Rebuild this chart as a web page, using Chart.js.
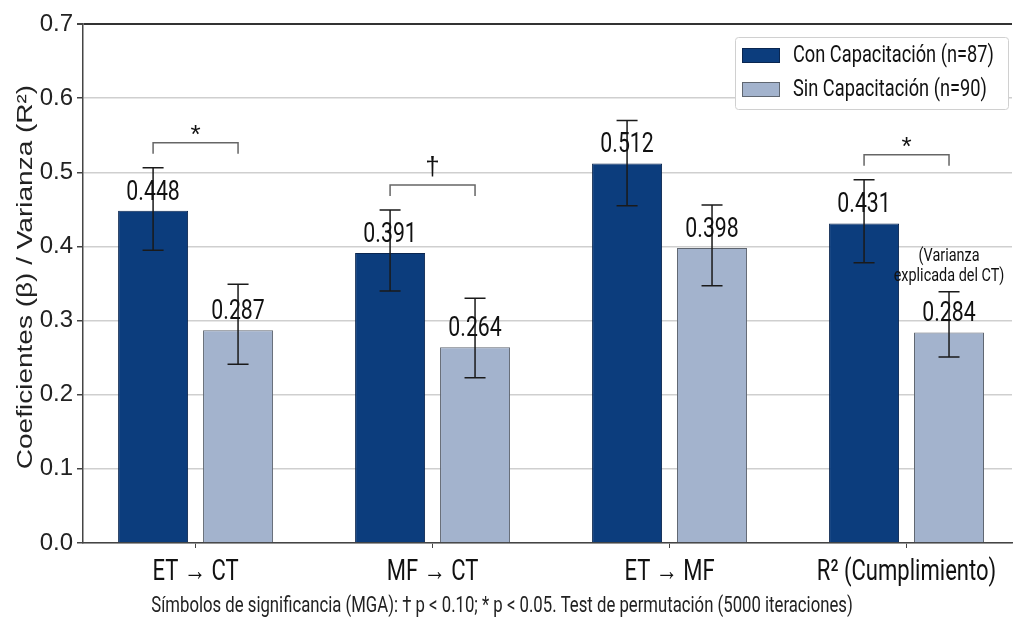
<!DOCTYPE html>
<html>
<head>
<meta charset="utf-8">
<script src="https://cdn.jsdelivr.net/npm/chart.js@4.4.1/dist/chart.umd.min.js"></script>
<style>
  html, body { margin: 0; padding: 0; background: #fff; }
  #wrap { width: 1015px; height: 619px; }
</style>
</head>
<body>
<div id="wrap"><canvas id="barChart"></canvas></div>
<script>
const categories = ['ET → CT', 'MF → CT', 'ET → MF', 'R² (Cumplimiento)'];
const seriesNames = ['Con Capacitación (n=87)', 'Sin Capacitación (n=90)'];
const conValues = [0.448, 0.391, 0.512, 0.431];
const sinValues = [0.287, 0.264, 0.398, 0.284];
// error bar ends
const conLow = [0.395, 0.340, 0.455, 0.378];
const conHigh = [0.506, 0.449, 0.570, 0.490];
const sinLow = [0.241, 0.223, 0.347, 0.251];
const sinHigh = [0.349, 0.330, 0.456, 0.339];
const sigMarks = ['*', '†', '', '*'];
const noteR2 = ['(Varianza', 'explicada del CT)'];
const yTitle = 'Coeficientes (β) / Varianza (R²)';
const footnote = 'Símbolos de significancia (MGA): † p < 0.10; * p < 0.05. Test de permutación (5000 iteraciones)';

const SANS = "'Liberation Sans', Arial, sans-serif";
const SQUEEZE = 0.76; // the picture is squashed sideways, text looks condensed
const DARK = '#0c3d7d';
const LIGHT = '#a3b3cd';

const lows = [conLow, sinLow];
const highs = [conHigh, sinHigh];

function narrowText(ctx, text, x, y, size, align, baseline, color) {
    ctx.save();
    ctx.font = size + 'px Roboto';
    ctx.textAlign = 'left';
    ctx.textBaseline = baseline;
    ctx.fillStyle = color || '#111';
    const w = ctx.measureText(text).width * SQUEEZE;
    const x0 = align === 'center' ? x - w / 2 : (align === 'right' ? x - w : x);
    ctx.translate(x0, y);
    ctx.scale(SQUEEZE, 1);
    ctx.fillText(text, 0, 0);
    ctx.restore();
}

const extras = {
    id: 'extras',
    afterDatasetsDraw(chart) {
        const ctx = chart.ctx;
        const y = chart.scales.y;
        ctx.save();
        // error bars + value labels
        chart.data.datasets.forEach((ds, d) => {
            const meta = chart.getDatasetMeta(d);
            meta.data.forEach((bar, i) => {
                const yl = y.getPixelForValue(lows[d][i]);
                const yh = y.getPixelForValue(highs[d][i]);
                ctx.strokeStyle = '#1a1a1a';
                ctx.lineWidth = 1.5;
                ctx.beginPath();
                ctx.moveTo(bar.x, yl); ctx.lineTo(bar.x, yh);
                ctx.moveTo(bar.x - 10.5, yl); ctx.lineTo(bar.x + 10.5, yl);
                ctx.moveTo(bar.x - 10.5, yh); ctx.lineTo(bar.x + 10.5, yh);
                ctx.stroke();
                narrowText(ctx, ds.data[i].y.toFixed(3), bar.x, bar.y - 11, 28, 'center', 'alphabetic');
            });
        });
        // significance brackets
        const m0 = chart.getDatasetMeta(0), m1 = chart.getDatasetMeta(1);
        sigMarks.forEach((mark, i) => {
            if (!mark) return;
            const x0 = m0.data[i].x, x1 = m1.data[i].x;
            const top = Math.min(y.getPixelForValue(conHigh[i]), y.getPixelForValue(sinHigh[i]));
            const by = top - 25;
            ctx.strokeStyle = '#666';
            ctx.lineWidth = 1.5;
            ctx.beginPath();
            ctx.moveTo(x0, by + 11); ctx.lineTo(x0, by); ctx.lineTo(x1, by); ctx.lineTo(x1, by + 11);
            ctx.stroke();
            ctx.fillStyle = '#111';
            ctx.font = '26px ' + SANS;
            ctx.textAlign = 'center';
            ctx.textBaseline = 'alphabetic';
            const mt = ctx.measureText(mark);
            ctx.fillText(mark, (x0 + x1) / 2, by - 8 - mt.actualBoundingBoxDescent);
        });
        // note above the last light bar
        const lb = m1.data[3];
        const cap = y.getPixelForValue(sinHigh[3]);
        narrowText(ctx, noteR2[0], lb.x, cap - 35, 19, 'center', 'middle');
        narrowText(ctx, noteR2[1], lb.x, cap - 15, 19, 'center', 'middle');
        ctx.restore();
    },
    afterDraw(chart) {
        const ctx = chart.ctx;
        const xs = chart.scales.x;
        ctx.save();
        // category labels
        categories.forEach((c, i) => {
            narrowText(ctx, c, xs.getPixelForValue(i), 573, 29, 'center', 'middle');
        });
        // y axis title
        ctx.save();
        ctx.translate(26, 277);
        ctx.rotate(-Math.PI / 2);
        ctx.scale(1, 0.82);
        ctx.font = '28px ' + SANS;
        ctx.fillStyle = '#222';
        ctx.textAlign = 'center';
        ctx.textBaseline = 'middle';
        ctx.fillText(yTitle, 0, 0);
        ctx.restore();
        // legend box
        const bx = 735, by = 37, bw = 273, bh = 72;
        ctx.fillStyle = '#fff';
        ctx.strokeStyle = '#d0d0d0';
        ctx.lineWidth = 1;
        ctx.beginPath();
        ctx.roundRect(bx + 0.5, by + 0.5, bw, bh, 3);
        ctx.fill(); ctx.stroke();
        chart.data.datasets.forEach((ds, d) => {
            const ry = by + 11 + d * 34;
            ctx.fillStyle = ds.backgroundColor;
            ctx.fillRect(bx + 7, ry, 38, 15);
            ctx.strokeStyle = ds.borderColor;
            ctx.lineWidth = 1;
            ctx.strokeRect(bx + 7.5, ry + 0.5, 37, 14);
            narrowText(ctx, ds.label, bx + 58, ry + 8, 24, 'left', 'middle');
        });
        // footnote
        narrowText(ctx, footnote, 502, 606, 22, 'center', 'middle', '#222');
        ctx.restore();
    }
};

new Chart(document.getElementById('barChart'), {
    type: 'bar',
    data: {
        datasets: [{
            label: seriesNames[0],
            data: categories.map((c, i) => ({ x: i, y: conValues[i] })),
            backgroundColor: DARK,
            borderColor: '#0a2650',
            borderWidth: 1,
        }, {
            label: seriesNames[1],
            data: categories.map((c, i) => ({ x: i, y: sinValues[i] })),
            backgroundColor: LIGHT,
            borderColor: '#5f6670',
            borderWidth: 1,
        }],
    },
    options: {
        responsive: true,
        maintainAspectRatio: false,
        animation: false,
        categoryPercentage: 0.717,
        barPercentage: 0.824,
        layout: { padding: { top: 24, right: 3, left: 0, bottom: 0 } },
        plugins: {
            legend: { display: false },
            tooltip: { enabled: false },
        },
        scales: {
            x: {
                type: 'linear',
                min: -0.475,
                max: 3.445,
                offset: false,
                afterBuildTicks: axis => { axis.ticks = axis.ticks.filter(t => Number.isInteger(t.value)); },
                afterFit: scale => { scale.height = 76; },
                ticks: { display: false, stepSize: 1 },
                grid: { offset: false, drawOnChartArea: false, drawTicks: true, tickLength: 5, color: '#444' },
                border: { color: '#444', width: 1.5 },
            },
            y: {
                min: 0,
                max: 0.7,
                afterFit: scale => { scale.width = 83; },
                ticks: {
                    stepSize: 0.1,
                    callback: v => v.toFixed(1),
                    color: '#222',
                    font: { family: SANS, size: 24 },
                    padding: 4,
                },
                grid: {
                    color: c => c.index === 7 ? '#333' : '#cfcfcf',
                    lineWidth: c => c.index === 7 ? 2 : 1.5,
                    tickLength: 6,
                    tickColor: '#444',
                },
                border: { color: '#444', width: 1.5 },
            },
        },
    },
    plugins: [extras],
});
</script>
</body>
</html>
